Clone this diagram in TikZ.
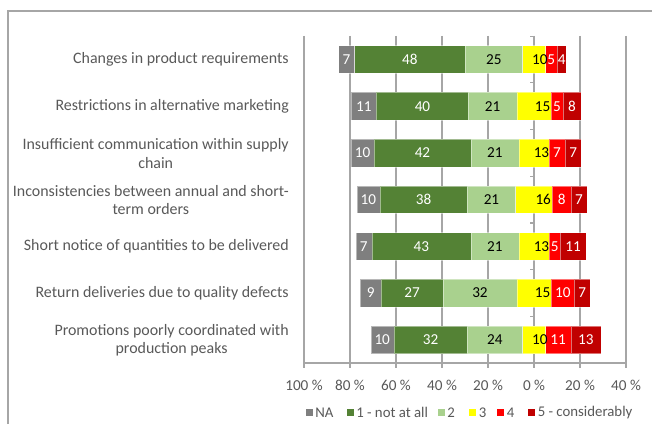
\documentclass[tikz,border=0pt]{standalone}
\usepackage{fontspec}
\setmainfont{Carlito}
\definecolor{cNA}{HTML}{7F7F7F}
\definecolor{cA}{HTML}{548235}
\definecolor{cB}{HTML}{A9D18E}
\definecolor{cC}{HTML}{FFFF00}
\definecolor{cD}{HTML}{FF0000}
\definecolor{cE}{HTML}{C00000}
\definecolor{txt}{HTML}{595959}
\definecolor{grid}{HTML}{A6A6A6}
\newcommand\XX[1]{534+2.3*(#1)}
\newcommand\drawrow[8]{%
  \pgfmathsetmacro\xa{-(#3+#4+#5+#6/2)}%
  \pgfmathsetmacro\xb{\xa+#3}%
  \pgfmathsetmacro\xc{\xb+#4}%
  \pgfmathsetmacro\xd{\xc+#5}%
  \pgfmathsetmacro\xe{\xd+#6}%
  \pgfmathsetmacro\xf{\xe+#7}%
  \pgfmathsetmacro\xg{\xf+#8}%
  \pgfmathsetmacro\yt{#2-13.8}%
  \pgfmathsetmacro\yb{#2+13.8}%
  \path[seg,fill=cNA] ({\XX{\xa}},\yt) rectangle ({\XX{\xb}},\yb);
  \path[seg,fill=cA] ({\XX{\xb}},\yt) rectangle ({\XX{\xc}},\yb);
  \path[seg,fill=cB] ({\XX{\xc}},\yt) rectangle ({\XX{\xd}},\yb);
  \path[seg,fill=cC] ({\XX{\xd}},\yt) rectangle ({\XX{\xe}},\yb);
  \path[seg,fill=cD] ({\XX{\xe}},\yt) rectangle ({\XX{\xf}},\yb);
  \path[seg,fill=cE] ({\XX{\xf}},\yt) rectangle ({\XX{\xg}},\yb);
  \node[vlab,text=white] (#1na) at ({\XX{(\xa+\xb)/2}},#2) {#3};
  \node[vlab,text=white] (#1a) at ({\XX{(\xb+\xc)/2}},#2) {#4};
  \node[vlab,text=black] (#1b) at ({\XX{(\xc+\xd)/2}},#2) {#5};
  \node[vlab,text=black] (#1c) at ({\XX{#6/4}},#2) {#6};
  \node[vlab,text=white] (#1d) at ({\XX{(\xe+\xf)/2}},#2) {#7};
  \node[vlab,text=white] (#1e) at ({\XX{(\xf+\xg)/2}},#2) {#8};
}
\begin{document}
\begin{tikzpicture}[x=0.75pt,y=-0.75pt,
  font=\fontsize{11.4}{13.5}\selectfont,
  seg/.style={draw=white,draw opacity=0.45,line width=0.3pt},
  vlab/.style={inner sep=0pt},
  cat/.style={anchor=east,align=center,text=txt,inner sep=0pt,font=\fontsize{11.95}{13.6}\selectfont},
  tlab/.style={text=txt,inner sep=0pt},
  gridline/.style={draw=grid,line width=0.8pt},
  leg/.style={fill=#1,minimum size=5.4pt,inner sep=0pt,anchor=west}]
\useasboundingbox (0,0) rectangle (652,424);
\fill[white] (0,0) rectangle (652,424);
% outer frame
\coordinate (f1) at (8,424);
\coordinate (f2) at (8,11);
\coordinate (f3) at (652,11);
\draw[draw=grid,line width=1.1pt] (f1) -- (f2) -- (f3);
% gridlines and x ticks
\foreach \p in {-100,-80,-60,-40,-20,0,20,40}{
  \coordinate (gt\p) at ({\XX{\p}},36);
  \coordinate (gb\p) at ({\XX{\p}},363);
  \coordinate (gk\p) at ({\XX{\p}},367.5);
  \draw[gridline] (gt\p) -- (gk\p);
}
% x axis
\draw[gridline] (gb-100) -- (gb40);
% y axis category ticks
\foreach \k in {0,...,7}{
  \coordinate (ya\k) at (534,{36.2+46.7*\k});
  \coordinate (yb\k) at (529.5,{36.2+46.7*\k});
  \draw[gridline] (ya\k) -- (yb\k);
}
% tick labels
\node[tlab] (l100) at ({\XX{-100}},385) {100 \%};
\node[tlab] (l80) at ({\XX{-80}},385) {80 \%};
\node[tlab] (l60) at ({\XX{-60}},385) {60 \%};
\node[tlab] (l40) at ({\XX{-40}},385) {40 \%};
\node[tlab] (l20) at ({\XX{-20}},385) {20 \%};
\node[tlab] (l0) at ({\XX{0}},385) {0 \%};
\node[tlab] (r20) at ({\XX{20}},385) {20 \%};
\node[tlab] (r40) at ({\XX{40}},385) {40 \%};
% bars
\drawrow{r1}{59.5}{7}{48}{25}{10}{5}{4}
\drawrow{r2}{106.2}{11}{40}{21}{15}{5}{8}
\drawrow{r3}{152.9}{10}{42}{21}{13}{7}{7}
\drawrow{r4}{199.6}{10}{38}{21}{16}{8}{7}
\drawrow{r5}{246.3}{7}{43}{21}{13}{5}{11}
\drawrow{r6}{293}{9}{27}{32}{15}{10}{7}
\drawrow{r7}{339.7}{10}{32}{24}{10}{11}{13}
% category labels
\node[cat] (c1) at (289,59.5) {Changes in product requirements};
\node[cat] (c2) at (289,106.2) {Restrictions in alternative marketing};
\node[cat] (c3) at (289,153.5) {Insufficient communication within supply\\chain};
\node[cat] (c4) at (289,200.2) {Inconsistencies between annual and short-\\term orders};
\node[cat] (c5) at (289,246.3) {Short notice of quantities to be delivered};
\node[cat] (c6) at (289,293) {Return deliveries due to quality defects};
\node[cat] (c7) at (289,340.3) {Promotions poorly coordinated with\\production peaks};
% legend
\node[leg=cNA] (s1) at (305.5,412.5) {};
\node[tlab,anchor=west,font=\fontsize{11.1}{13.5}\selectfont] (t1) at (315,412.5) {NA};
\node[leg=cA] (s2) at (346.5,412.5) {};
\node[tlab,anchor=west,font=\fontsize{11.1}{13.5}\selectfont] (t2) at (356,412.5) {1 - not at all};
\node[leg=cB] (s3) at (437.5,412.5) {};
\node[tlab,anchor=west,font=\fontsize{11.1}{13.5}\selectfont] (t3) at (447,412.5) {2};
\node[leg=cC] (s4) at (469,412.5) {};
\node[tlab,anchor=west,font=\fontsize{11.1}{13.5}\selectfont] (t4) at (478.5,412.5) {3};
\node[leg=cD] (s5) at (497,412.5) {};
\node[tlab,anchor=west,font=\fontsize{11.1}{13.5}\selectfont] (t5) at (506.5,412.5) {4};
\node[leg=cE] (s6) at (528,412.5) {};
\node[tlab,anchor=west,font=\fontsize{11.1}{13.5}\selectfont] (t6) at (537.5,412.5) {5 - considerably};
\end{tikzpicture}
\end{document}
